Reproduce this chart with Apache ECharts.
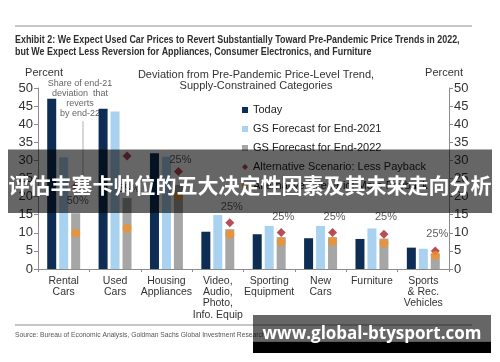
<!DOCTYPE html>
<html>
<head>
<meta charset="utf-8">
<script src="https://cdn.jsdelivr.net/npm/echarts@6/dist/echarts.min.js"></script>
<style>html,body{margin:0;padding:0;background:#fff}#c{width:500px;height:362px}</style>
</head>
<body>
<div id="c"></div>
<script>
var categories = ['Rental\nCars','Used\nCars','Housing\nAppliances','Video,\nAudio,\nPhoto,\nInfo. Equip','Sporting\nEquipment','New\nCars','Furniture','Sports\n& Rec.\nVehicles'];
var today = [47, 44.3, 32, 10.3, 9.6, 8.5, 8.3, 5.9];
var gs2021 = [30.9, 43.5, 31, 14.9, 11.9, 11.9, 11.2, 5.6];
var gs2022 = [15.4, 19.6, 23.2, 11, 8.8, 8.8, 8.4, 4.3];
var altLess = [22.7, 31.2, 26.9, 12.8, 10.1, 10.1, 9.6, 5.0];
var altMore = [9.9, 11.2, 20, 9.6, 7.5, 7.6, 7.1, 3.7];
var pctText = ['50%','55%','25%','25%','25%','25%','25%','25%'];
var pctPos = [18.8, 22, 30.1, 17.1, 14.4, 14.4, 14.4, 9.7];
var yTicks = {min: 0, max: 50, interval: 5};
var seriesNames = ['Today','GS Forecast for End-2021','GS Forecast for End-2022','Alternative Scenario: Less Payback','Alternative Scenario: More Payback'];

var SANS = '"Liberation Sans", Arial, sans-serif';
var chart = echarts.init(document.getElementById('c'));

function yAxis(pos) {
  return {
    type: 'value', position: pos, min: yTicks.min, max: yTicks.max, interval: yTicks.interval,
    axisLine: {show: true, lineStyle: {color: '#8c8c8c', width: 1}},
    axisTick: {show: true, length: 4, lineStyle: {color: '#8c8c8c'}},
    axisLabel: {color: '#333', fontSize: 13, fontFamily: SANS, margin: 5},
    splitLine: {show: false}
  };
}

var pctData = pctPos.map(function (v, i) { return {value: v, label: {formatter: pctText[i]}}; });

chart.setOption({
  animation: false,
  backgroundColor: '#fff',
  grid: {left: 38, right: 51, top: 88, bottom: 93, containLabel: false},
  legend: {
    orient: 'vertical', left: 237, top: 98.5, itemGap: 6, itemWidth: 6, itemHeight: 6,
    textStyle: {color: '#222', fontSize: 11, fontFamily: SANS, lineHeight: 13},
    data: [
      {name: seriesNames[0], icon: 'rect'},
      {name: seriesNames[1], icon: 'rect'},
      {name: seriesNames[2], icon: 'rect'},
      {name: seriesNames[3], icon: 'diamond'},
      {name: seriesNames[4], icon: 'circle'}
    ],
    selectedMode: false
  },
  xAxis: {
    type: 'category', data: categories,
    axisLine: {show: true, lineStyle: {color: '#8c8c8c'}},
    axisTick: {show: true, length: 3, alignWithLabel: false, lineStyle: {color: '#8c8c8c'}},
    axisLabel: {interval: 0, color: '#333', fontSize: 10.5, fontFamily: SANS, lineHeight: 11.4, margin: 6}
  },
  yAxis: [yAxis('left'), yAxis('right')],
  series: [
    {name: seriesNames[0], type: 'bar', data: today, barWidth: 9, barGap: '33%', itemStyle: {color: '#0d2d55'}},
    {name: seriesNames[1], type: 'bar', data: gs2021, barWidth: 9, barGap: '33%', itemStyle: {color: '#a9d1f0'}},
    {name: seriesNames[2], type: 'bar', data: gs2022, barWidth: 9, barGap: '33%', itemStyle: {color: '#a6a6a6'}},
    {name: seriesNames[3], type: 'scatter', data: altLess, symbol: 'diamond', symbolSize: [9, 9], symbolOffset: [12, 0], itemStyle: {color: '#a5202c'}, z: 5},
    {name: seriesNames[4], type: 'scatter', data: altMore, symbol: 'circle', symbolSize: 9, symbolOffset: [12, 0], itemStyle: {color: '#f39127'}, z: 6},
    {name: 'pct', type: 'scatter', data: pctData, symbolSize: 1, itemStyle: {color: 'rgba(0,0,0,0)'}, z: 7,
      label: {show: true, position: 'inside', offset: [14, 0], color: '#333', fontSize: 11, fontFamily: SANS}}
  ],
  graphic: [
    {type: 'line', shape: {x1: 15, y1: 26, x2: 472, y2: 26}, style: {stroke: '#b5b5b5', lineWidth: 1.5}},
    {type: 'text', x: 15, y: 40, scaleX: 0.85, style: {text: 'Exhibit 2: We Expect Used Car Prices to Revert Substantially Toward Pre-Pandemic Price Trends in 2022,', font: 'bold 10.5px ' + SANS, fill: '#2e2e2e', verticalAlign: 'middle'}},
    {type: 'text', x: 15, y: 52, scaleX: 0.85, style: {text: 'but We Expect Less Reversion for Appliances, Consumer Electronics, and Furniture', font: 'bold 10.5px ' + SANS, fill: '#2e2e2e', verticalAlign: 'middle'}},
    {type: 'text', x: 44, y: 73, style: {text: 'Percent', font: '11px ' + SANS, fill: '#333', align: 'center', verticalAlign: 'middle'}},
    {type: 'text', x: 444, y: 73, style: {text: 'Percent', font: '11px ' + SANS, fill: '#333', align: 'center', verticalAlign: 'middle'}},
    {type: 'text', x: 256, y: 75, style: {text: 'Deviation from Pre-Pandemic Price-Level Trend,', font: '11px ' + SANS, fill: '#333', align: 'center', verticalAlign: 'middle'}},
    {type: 'text', x: 256, y: 86, style: {text: 'Supply-Constrained Categories', font: '11px ' + SANS, fill: '#333', align: 'center', verticalAlign: 'middle'}},
    {type: 'text', x: 80, y: 84, style: {text: 'Share of end-21', font: '9px ' + SANS, fill: '#666', align: 'center', verticalAlign: 'middle'}},
    {type: 'text', x: 80, y: 94, style: {text: 'deviation  that', font: '9px ' + SANS, fill: '#666', align: 'center', verticalAlign: 'middle'}},
    {type: 'text', x: 80, y: 103.5, style: {text: 'reverts', font: '9px ' + SANS, fill: '#666', align: 'center', verticalAlign: 'middle'}},
    {type: 'text', x: 80, y: 114, style: {text: 'by end-22', font: '9px ' + SANS, fill: '#666', align: 'center', verticalAlign: 'middle'}},
    {type: 'line', shape: {x1: 83, y1: 121, x2: 83, y2: 194}, style: {stroke: '#9a9a9a', lineWidth: 0.8}},
    {type: 'line', shape: {x1: 15, y1: 325, x2: 472, y2: 325}, style: {stroke: '#b5b5b5', lineWidth: 1.5}},
    {type: 'text', x: 15, y: 335, scaleX: 0.84, style: {text: 'Source: Bureau of Economic Analysis, Goldman Sachs Global Investment Research', font: '8px ' + SANS, fill: '#555', verticalAlign: 'middle'}},
    {type: 'rect', shape: {x: 8, y: 149.5, width: 484, height: 63.5}, style: {fill: 'rgba(0,0,0,0.6)'}, z: 100},
    {type: 'text', x: 250, y: 185, z: 101, style: {text: '评估丰塞卡帅位的五大决定性因素及其未来走向分析', font: 'bold 21px "Noto Sans CJK SC", sans-serif', fill: '#fff', align: 'center', verticalAlign: 'middle'}},
    {type: 'rect', shape: {x: 253, y: 315, width: 238, height: 26.5}, style: {fill: 'rgba(0,0,0,0.6)'}, z: 100},
    {type: 'rect', shape: {x: 253, y: 341.5, width: 238, height: 11.5}, style: {fill: '#000'}, z: 100},
    {type: 'text', x: 372, y: 334, z: 101, style: {text: 'www.global-btysport.com', font: 'bold 17px "Open Sans", "Noto Sans", sans-serif', fill: '#fff', align: 'center', verticalAlign: 'middle'}}
  ]
});
</script>
</body>
</html>
